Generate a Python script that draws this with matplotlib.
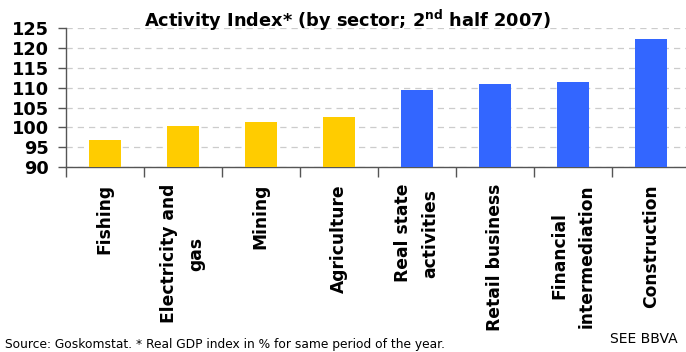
import numpy as np
import matplotlib
matplotlib.use("Agg")
import matplotlib.pyplot as plt

sectors = ["Fishing", "Electricity and\ngas", "Mining", "Agriculture",
           "Real state\nactivities", "Retail business", "Financial\nintermediation",
           "Construction"]
index_values = [96.9, 100.4, 101.4, 102.6, 109.4, 110.9, 111.4, 122.2]
bar_colors = ["#FFCC00"] * 4 + ["#3366FF"] * 4

fig = plt.figure(figsize=(6.86, 3.52), dpi=100)
ax = fig.add_axes([0.0958, 0.5247, 1.0 - 0.0958, 0.921 - 0.5247])

x = np.arange(len(sectors))
ax.bar(x, index_values, width=0.41, color=bar_colors, zorder=3, bottom=0)

ax.set_ylim(90, 125)
ax.set_yticks(np.arange(90, 126, 5))
ax.set_xlim(-0.5, 7.453)

ax.yaxis.grid(True, linestyle=(0, (5, 4)), color="#cccccc", linewidth=0.9, zorder=0)
for side in ["top", "right"]:
    ax.spines[side].set_visible(False)
for side in ["left", "bottom"]:
    ax.spines[side].set_color("#555555")
    ax.spines[side].set_linewidth(1.0)

# category boundary ticks below the axis, labels centred under the bars
ax.set_xticks(x)
ax.set_xticklabels(sectors, rotation=90, ha="center", va="top",
                   fontsize=12.3, fontweight="bold", linespacing=1.65)
ax.tick_params(axis="x", length=0, pad=12)
ax.set_xticks(np.arange(-0.5, 7.5, 1), minor=True)
ax.tick_params(axis="x", which="minor", length=7, color="#555555", width=1.0)
ax.tick_params(axis="y", length=6, color="#555555", width=1.0, pad=6,
               labelsize=12.8)
for lbl in ax.get_yticklabels():
    lbl.set_fontweight("bold")

fig.text(0.507, 0.943, r"Activity Index* (by sector; 2$^{\mathbf{nd}}$ half 2007)",
         ha="center", va="center", fontsize=12.8, fontweight="bold")
fig.text(0.007, 0.02, "Source: Goskomstat. * Real GDP index in % for same period of the year.",
         ha="left", va="center", fontsize=8.8)
fig.text(0.889, 0.037, "SEE BBVA", ha="left", va="center", fontsize=10)

fig.savefig("out.png", dpi=100)
